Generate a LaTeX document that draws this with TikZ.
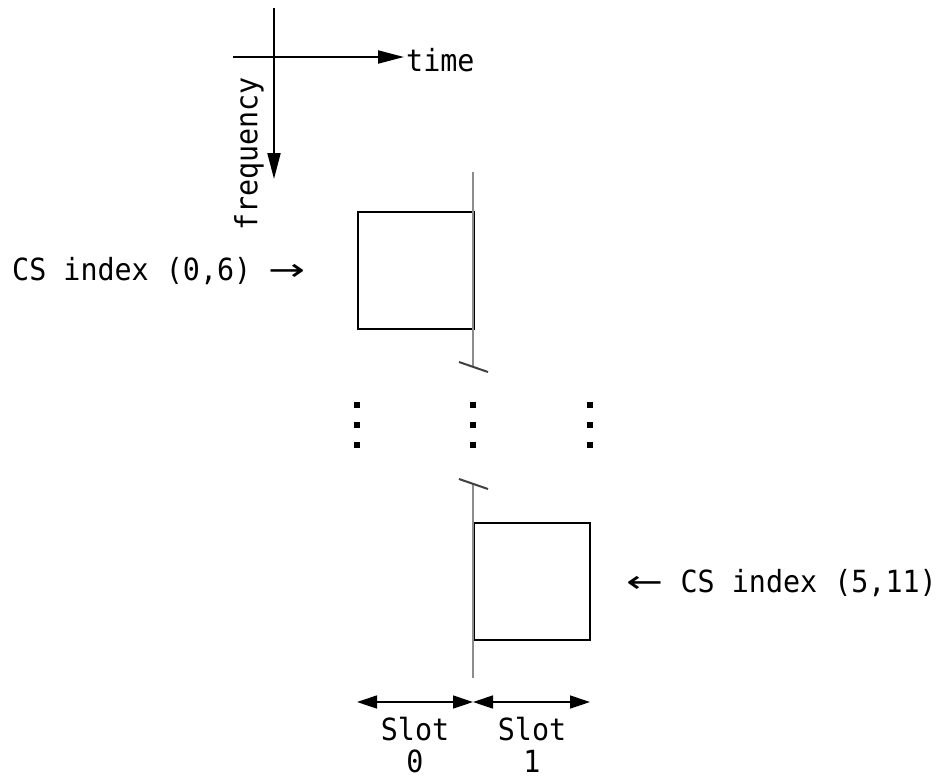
\documentclass[tikz,border=0pt]{standalone}
\usepackage{fontspec}
\usepackage{graphicx}
\setmainfont[FakeStretch=0.93]{DejaVu Sans Mono}
\newfontfamily\symfont{DejaVu Sans}
\newcommand{\wideR}{\scalebox{1.45}[1]{\symfont→}}
\newcommand{\wideL}{\scalebox{1.45}[1]{\symfont←}}
\usetikzlibrary{arrows.meta}
\begin{document}
\begin{tikzpicture}[x=1pt,y=-1pt,
  txt/.style={inner sep=0pt,font=\fontsize{30.5}{32}\selectfont},
  axis/.style={line width=2pt,-{Triangle[length=26pt,width=13pt]}},
  csbox/.style={draw,line width=2pt,minimum width=116pt,minimum height=117pt,anchor=north west,inner sep=0pt},
  slotline/.style={line width=1.4pt,{Triangle[length=20pt,width=13pt]}-{Triangle[length=20pt,width=13pt]}},
  border/.style={line width=2pt,draw=black!45},
  brk/.style={line width=2pt,draw=black!75},
  dot/.style={fill=black,minimum size=6pt,inner sep=0pt}]
\useasboundingbox (0,0) rectangle (943,782);

% axes
\coordinate (vtop) at (274,8);
\coordinate (vend) at (274,179);
\coordinate (hstart) at (233,57);
\coordinate (hend) at (404,57);
\draw[axis] (vtop) -- (vend);
\draw[axis] (hstart) -- (hend);
\node[txt,anchor=west] (time) at (406,60) {time};
\node[txt,rotate=90] (freq) at (249,154) {frequency};

% code-sequence boxes
\node[csbox] (box1) at (357,211) {};
\node[csbox] (box2) at (473,522) {};

% slot border with break marks
\coordinate (btop) at (473,172);
\coordinate (bmid1) at (473,367);
\coordinate (bmid2) at (473,484);
\coordinate (bbot) at (473,678);
\draw[border] (btop) -- (bmid1);
\draw[border] (bmid2) -- (bbot);
\coordinate (s1a) at (459,362);
\coordinate (s1b) at (488,372);
\coordinate (s2a) at (459,479);
\coordinate (s2b) at (488,489);
\draw[brk] (s1a) -- (s1b);
\draw[brk] (s2a) -- (s2b);

% vertical ellipses
\foreach \x/\n in {357/a,473/b,590/c}{
  \foreach \y/\m in {405/1,425/2,445/3}{
    \node[dot] (d\n\m) at (\x,\y) {};
  }
}

% labels
\node[txt,anchor=west] (cs1) at (12,271) {CS index (0,6) \wideR};
\node[txt,anchor=east] (cs2) at (937,583) {\wideL\ CS index (5,11)};

% slot widths
\coordinate (sl0) at (357,702);
\coordinate (sm) at (473,702);
\coordinate (sr1) at (590,702);
\draw[slotline] (sl0) -- (sm);
\draw[slotline] (sm) -- (sr1);
\node[txt,align=center,anchor=north] (slot0) at (415,717) {Slot\\0};
\node[txt,align=center,anchor=north] (slot1) at (532,717) {Slot\\1};
\end{tikzpicture}
\end{document}
